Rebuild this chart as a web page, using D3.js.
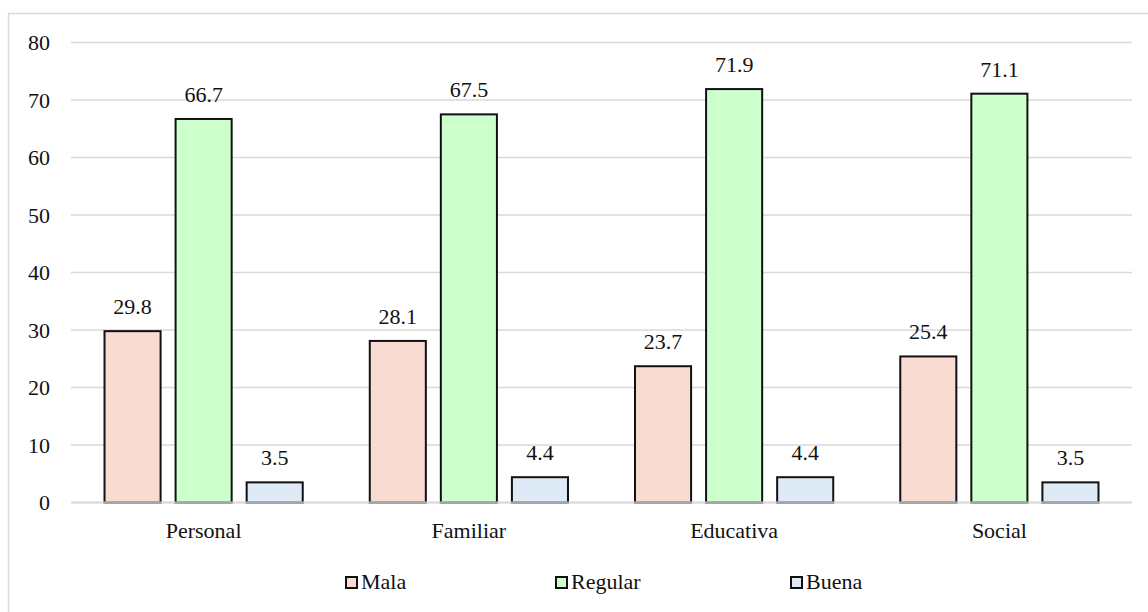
<!DOCTYPE html>
<html>
<head>
<meta charset="utf-8">
<script src="https://cdn.jsdelivr.net/npm/d3@7"></script>
<style>
  html, body { margin: 0; padding: 0; background: #fff; }
  svg { display: block; }
</style>
</head>
<body>
<svg id="chart" width="1148" height="612"></svg>
<script>
const categories = ["Personal", "Familiar", "Educativa", "Social"];
const series = ["Mala", "Regular", "Buena"];
const mala    = [29.8, 28.1, 23.7, 25.4];
const regular = [66.7, 67.5, 71.9, 71.1];
const buena   = [3.5, 4.4, 4.4, 3.5];
const yTicks  = [0, 10, 20, 30, 40, 50, 60, 70, 80];
const colors  = ["#FADBD2", "#CCFFCC", "#DEEAF6"];

const FONT = "'Liberation Serif', 'Times New Roman', Times, 'DejaVu Serif', serif";
const values = [mala, regular, buena];
const data = [];
categories.forEach((c, i) => series.forEach((s, j) => data.push({cat: c, ser: s, v: values[j][i], j})));

const svg = d3.select("#chart").attr("font-family", FONT);

// outer border
svg.append("rect").attr("x", 8.5).attr("y", 13.5).attr("width", 1150).attr("height", 620)
  .attr("fill", "none").attr("stroke", "#d9d9d9").attr("stroke-width", 1.5);

const plotLeft = 71, plotRight = 1132, plotTop = 42.5, plotBottom = 502.5;

const x0 = d3.scaleBand().domain(categories).range([plotLeft, plotRight]).paddingInner(0).paddingOuter(0);
const x1 = d3.scaleBand().domain(series).range([0, x0.bandwidth()]).paddingInner(0.211).paddingOuter(0.4716);
const y = d3.scaleLinear().domain([0, 80]).range([plotBottom, plotTop]);

function txt(sel) {
  return sel.attr("font-family", FONT).attr("font-size", 22).attr("fill", "#111");
}

// gridlines
svg.append("g").selectAll("line").data(yTicks).join("line")
  .attr("x1", plotLeft).attr("x2", plotRight)
  .attr("y1", d => y(d)).attr("y2", d => y(d))
  .attr("stroke", "#d9d9d9").attr("stroke-width", 1.5);

// y tick labels
txt(svg.append("g").selectAll("text").data(yTicks).join("text"))
  .attr("x", 50).attr("y", d => y(d) + 7.5)
  .attr("text-anchor", "end")
  .text(d => d);

// bars
svg.append("g").selectAll("rect").data(data).join("rect")
  .attr("x", d => x0(d.cat) + x1(d.ser))
  .attr("y", d => y(d.v))
  .attr("width", x1.bandwidth())
  .attr("height", d => y(0) - y(d.v))
  .attr("fill", d => colors[d.j])
  .attr("stroke", "#111").attr("stroke-width", 2);

// baseline on top
svg.append("line").attr("x1", plotLeft).attr("x2", plotRight).attr("y1", y(0)).attr("y2", y(0))
  .attr("stroke", "#d9d9d9").attr("stroke-width", 2);
svg.append("g").selectAll("line").data(data).join("line")
  .attr("x1", d => x0(d.cat) + x1(d.ser) - 1).attr("x2", d => x0(d.cat) + x1(d.ser) + x1.bandwidth() + 1)
  .attr("y1", y(0) + 0.5).attr("y2", y(0) + 0.5)
  .attr("stroke", "#a6a6a6").attr("stroke-width", 2);

// data labels
txt(svg.append("g").selectAll("text").data(data).join("text"))
  .attr("x", d => x0(d.cat) + x1(d.ser) + x1.bandwidth() / 2)
  .attr("y", d => y(d.v) - 17)
  .attr("text-anchor", "middle")
  .text(d => d.v.toFixed(1));

// category labels
txt(svg.append("g").selectAll("text").data(categories).join("text"))
  .attr("x", d => x0(d) + x0.bandwidth() / 2)
  .attr("y", 538)
  .attr("text-anchor", "middle")
  .text(d => d);

// legend
const legendX = [346, 556, 791];
const lg = svg.append("g").selectAll("g").data(series).join("g")
  .attr("transform", (d, i) => `translate(${legendX[i]},577)`);
lg.append("rect").attr("x", 0).attr("y", 0).attr("width", 11).attr("height", 11)
  .attr("fill", (d, i) => colors[i]).attr("stroke", "#111").attr("stroke-width", 2);
txt(lg.append("text")).attr("x", 15).attr("y", 12).text(d => d);
</script>
</body>
</html>
